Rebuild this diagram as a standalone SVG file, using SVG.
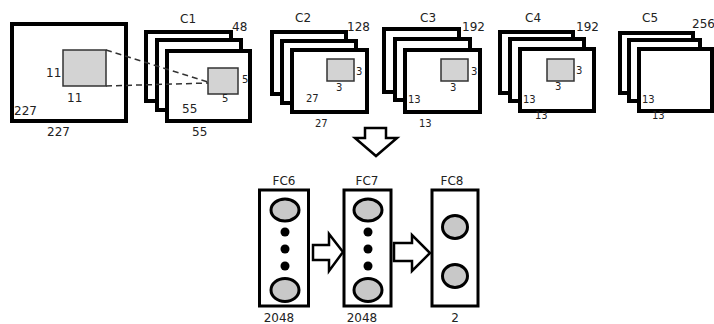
<svg xmlns="http://www.w3.org/2000/svg" width="714" height="324" viewBox="0 0 714 324">
<style>
text{font-family:"DejaVu Sans","Liberation Sans",sans-serif;font-size:12px;fill:#222}
.s{font-size:10px}
.m{text-anchor:middle}
.map{fill:#fff;stroke:#000;stroke-width:4}
.k{fill:#d3d3d3;stroke:#333;stroke-width:1.5}
.fc{fill:#fff;stroke:#000;stroke-width:3}
.n{fill:#c8c8c8;stroke:#000;stroke-width:3}
.arr{fill:#fff;stroke:#000;stroke-width:2.5;stroke-linejoin:miter}
</style>
<g id="input">
<rect class="map" x="12" y="24" width="114" height="97"/>
<rect class="k" x="63" y="50" width="43" height="36"/>
<text x="46" y="77">11</text>
<text x="67" y="102">11</text>
<text x="14" y="115">227</text>
<text x="47" y="136">227</text>
</g>
<g id="c1">
<rect class="map" x="146" y="32" width="85" height="69"/>
<rect class="map" x="157" y="40" width="84" height="70"/>
<rect class="map" x="167" y="51" width="83" height="70"/>
<rect class="k" x="208" y="68" width="30" height="26"/>
<text class="s" x="242" y="83">5</text>
<text class="s" x="222" y="102">5</text>
<text x="182" y="113">55</text>
<text x="192" y="136">55</text>
<text x="180" y="23">C1</text>
<text x="232" y="31">48</text>
</g>
<g id="c2">
<rect class="map" x="272" y="32" width="74" height="62"/>
<rect class="map" x="282" y="41" width="74" height="62"/>
<rect class="map" x="292" y="50" width="75" height="62"/>
<rect class="k" x="327" y="59" width="27" height="22"/>
<text class="s" x="356" y="75">3</text>
<text class="s" x="336" y="91">3</text>
<text class="s" x="306" y="102">27</text>
<text class="s" x="315" y="127">27</text>
<text x="295" y="22">C2</text>
<text x="347" y="31">128</text>
</g>
<g id="c3">
<rect class="map" x="384" y="29" width="75" height="63"/>
<rect class="map" x="395" y="39" width="75" height="61"/>
<rect class="map" x="405" y="50" width="75" height="62"/>
<rect class="k" x="441" y="59" width="27" height="22"/>
<text class="s" x="471" y="75">3</text>
<text class="s" x="450" y="91">3</text>
<text class="s" x="408" y="103">13</text>
<text class="s" x="419" y="127">13</text>
<text x="420" y="22">C3</text>
<text x="462" y="31">192</text>
</g>
<g id="c4">
<rect class="map" x="500" y="32" width="73" height="61"/>
<rect class="map" x="510" y="39" width="74" height="62"/>
<rect class="map" x="520" y="49" width="74" height="62"/>
<rect class="k" x="547" y="59" width="27" height="22"/>
<text class="s" x="576" y="74">3</text>
<text class="s" x="555" y="90">3</text>
<text class="s" x="523" y="103">13</text>
<text class="s" x="535" y="119">13</text>
<text x="525" y="22">C4</text>
<text x="576" y="31">192</text>
</g>
<g id="c5">
<rect class="map" x="620" y="33" width="73" height="60"/>
<rect class="map" x="629" y="40" width="71" height="61"/>
<rect class="map" x="639" y="49" width="73" height="62"/>
<text class="s" x="642" y="103">13</text>
<text class="s" x="652" y="119">13</text>
<text x="642" y="22">C5</text>
<text x="692" y="28">256</text>
</g>
<g id="fc6">
<rect class="fc" x="259.5" y="190" width="49" height="116"/>
<ellipse class="n" cx="285" cy="210" rx="14" ry="11"/>
<circle cx="285" cy="232" r="4.5"/>
<circle cx="285" cy="249" r="4.5"/>
<circle cx="285" cy="266" r="4.5"/>
<ellipse class="n" cx="285" cy="290" rx="14" ry="11.5"/>
<text class="m" x="284" y="185">FC6</text>
<text class="m" x="279" y="322">2048</text>
</g>
<g id="fc7">
<rect class="fc" x="344" y="190" width="47" height="116"/>
<ellipse class="n" cx="368" cy="210" rx="14" ry="11"/>
<circle cx="368" cy="232" r="4.5"/>
<circle cx="368" cy="249" r="4.5"/>
<circle cx="368" cy="266" r="4.5"/>
<ellipse class="n" cx="368" cy="290" rx="14" ry="11.5"/>
<text class="m" x="367" y="185">FC7</text>
<text class="m" x="362" y="322">2048</text>
</g>
<g id="fc8">
<rect class="fc" x="432" y="190" width="46" height="116"/>
<ellipse class="n" cx="455" cy="227" rx="12.5" ry="11.5"/>
<ellipse class="n" cx="455" cy="276" rx="12.5" ry="11.5"/>
<text class="m" x="452" y="185">FC8</text>
<text class="m" x="455" y="322">2</text>
</g>
<g id="connectors">
<line x1="106" y1="50" x2="208" y2="82" stroke="#333" stroke-width="1.5" stroke-dasharray="6,4"/>
<line x1="106" y1="86" x2="208" y2="83" stroke="#333" stroke-width="1.5" stroke-dasharray="6,4"/>
<path class="arr" d="M365,128 H386 V138 H397 L376,156 L355,138 H365 Z"/>
<path class="arr" d="M313,245 H329 V234 L343,252 L329,271 V260 H313 Z"/>
<path class="arr" d="M394,243 H412 V235 L430,253 L412,271 V261 H394 Z"/>
</g>
</svg>
